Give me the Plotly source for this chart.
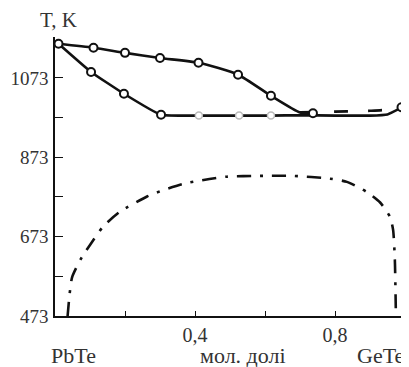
import plotly.graph_objects as go

# Liquidus (upper curve), mole fraction GeTe vs T, K
liq_x = [0.01, 0.11, 0.20, 0.30, 0.41, 0.523, 0.617, 0.70, 0.737]
liq_T = [1159, 1149, 1136, 1123, 1111, 1081, 1028, 986, 984]
liq_mx = [0.01, 0.11, 0.20, 0.30, 0.41, 0.523, 0.617, 0.737]
liq_mT = [1159, 1149, 1136, 1123, 1111, 1081, 1028, 984]

# Solidus (lower curve)
sol_x = [0.01, 0.103, 0.197, 0.303, 0.411, 0.526, 0.617, 0.70, 0.80, 0.90, 0.95, 0.99]
sol_T = [1159, 1088, 1033, 980, 978, 978, 978, 979, 978, 978, 981, 998]
sol_mx = [0.103, 0.197, 0.303]
sol_mT = [1088, 1033, 980]
sol_fx = [0.411, 0.526, 0.617]
sol_fT = [978, 978, 978]

# Dashed branch towards GeTe
dsh_x = [0.70, 0.80, 0.90, 0.96, 0.99]
dsh_T = [986, 988, 990, 994, 1000]
end_x = [0.99]
end_T = [999]

# Miscibility gap (dash-dot)
gap_x = [0.036, 0.042, 0.049, 0.077, 0.10, 0.137, 0.186, 0.263, 0.29, 0.366, 0.49,
         0.586, 0.68, 0.786, 0.834, 0.89, 0.929, 0.957, 0.966, 0.971, 0.974]
gap_T = [473, 530, 571, 622, 652, 698, 736, 774, 784, 806, 824,
         826, 826, 819, 811, 786, 759, 723, 690, 614, 473]

y_ticks = [473, 573, 673, 773, 873, 973, 1073]
y_labels = ["473", "", "673", "", "873", "", "1073"]
x_ticks = [0.2, 0.4, 0.6, 0.8]
x_labels = ["", "0,4", "", "0,8"]

ink = "#111111"
txt = "#333333"
font = "Liberation Serif"

fig = go.Figure()
fig.add_trace(go.Scatter(x=gap_x, y=gap_T, mode="lines", line=dict(color=ink, width=2.6, dash="14px,9px,3px,9px", shape="spline", smoothing=0.6)))
fig.add_trace(go.Scatter(x=dsh_x, y=dsh_T, mode="lines", line=dict(color=ink, width=2.6, dash="14px,20px", shape="spline")))
fig.add_trace(go.Scatter(x=sol_x, y=sol_T, mode="lines", line=dict(color=ink, width=2.6, shape="spline", smoothing=0.4)))
fig.add_trace(go.Scatter(x=liq_x, y=liq_T, mode="lines", line=dict(color=ink, width=2.6, shape="spline", smoothing=0.6)))
fig.add_trace(go.Scatter(x=sol_fx, y=sol_fT, mode="markers", marker=dict(symbol="circle", size=7, color="white", line=dict(color="#bbbbbb", width=1.5))))
fig.add_trace(go.Scatter(x=liq_mx + sol_mx + end_x, y=liq_mT + sol_mT + end_T, mode="markers", marker=dict(symbol="circle", size=8, color="white", line=dict(color=ink, width=2))))

ann = dict(xref="paper", yref="paper", showarrow=False, xanchor="center", yanchor="middle")

fig.update_layout(
    width=401, height=359,
    margin=dict(l=47, r=4, t=29, b=51, autoexpand=False),
    paper_bgcolor="white", plot_bgcolor="white",
    showlegend=False,
    font=dict(family=font, size=20, color=txt),
    xaxis=dict(range=[0, 1], tickvals=x_ticks, ticktext=x_labels, ticks="inside", ticklen=5, tickwidth=1.2,
               tickcolor=ink, showline=True, linecolor=ink, linewidth=1.6, showgrid=False, zeroline=False,
               automargin=False, ticklabelstandoff=0,
               tickfont=dict(family=font, size=20, color=txt)),
    yaxis=dict(range=[473, 1176], tickvals=y_ticks, ticktext=y_labels, ticks="inside", ticklen=8, tickwidth=1.4,
               tickcolor=ink, showline=True, linecolor=ink, linewidth=1.6, mirror=True, showgrid=False, zeroline=False,
               automargin=False, ticklabelstandoff=1,
               tickfont=dict(family=font, size=19, color=txt)),
    annotations=[
        dict(text="T, K", x=0.009, y=1.06, font=dict(family=font, size=21, color=txt), **ann),
        dict(text="PbTe", x=0.054, y=-0.14, font=dict(family=font, size=22, color=txt), **ann),
        dict(text="мол. долі", x=0.537, y=-0.14, font=dict(family=font, size=22, color=txt), **ann),
        dict(text="GeTe", x=0.93, y=-0.14, font=dict(family=font, size=22, color=txt), **ann),
    ],
)
fig.write_html("out.html")
